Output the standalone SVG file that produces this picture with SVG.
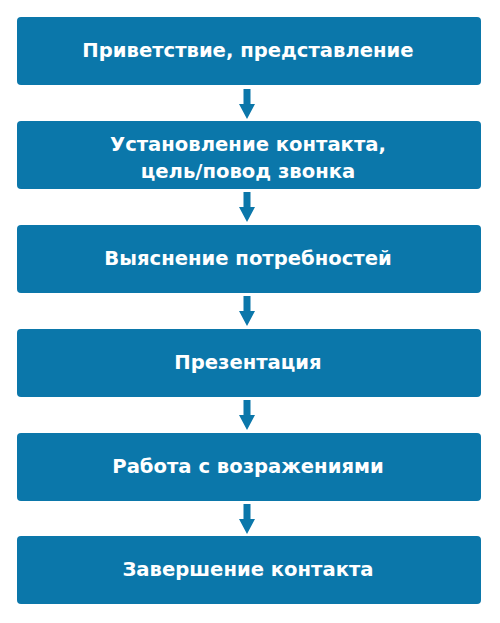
<svg xmlns="http://www.w3.org/2000/svg" width="500" height="623" viewBox="0 0 500 623">
<defs>
<style>
.box{fill:#0b77aa;}
.lbl{fill:#ffffff;font-family:"DejaVu Sans",Verdana,sans-serif;font-weight:bold;font-size:19.6px;text-anchor:middle;}
.arr{fill:#0b77aa;}
</style>
<path id="ar" d="M-3.5,0 H3.5 V15 H8 L0,30 L-8,15 H-3.5 Z"/>
</defs>
<rect width="500" height="623" fill="#ffffff"/>
<g id="connectors" class="arr">
<use href="#ar" x="247" y="89"/>
<use href="#ar" x="247" y="192"/>
<use href="#ar" x="247" y="296"/>
<use href="#ar" x="247" y="400"/>
<use href="#ar" x="247" y="504"/>
</g>
<g id="n1"><rect class="box" x="17" y="17" width="464" height="68" rx="4"/><text class="lbl" x="248" y="57">Приветствие, представление</text></g>
<g id="n2"><rect class="box" x="17" y="121" width="464" height="68" rx="4"/><text class="lbl" x="248" y="151">Установление контакта,</text><text class="lbl" x="248" y="178">цель/повод звонка</text></g>
<g id="n3"><rect class="box" x="17" y="225" width="464" height="68" rx="4"/><text class="lbl" x="248" y="265">Выяснение потребностей</text></g>
<g id="n4"><rect class="box" x="17" y="329" width="464" height="68" rx="4"/><text class="lbl" x="248" y="369">Презентация</text></g>
<g id="n5"><rect class="box" x="17" y="433" width="464" height="68" rx="4"/><text class="lbl" x="248" y="473">Работа с возражениями</text></g>
<g id="n6"><rect class="box" x="17" y="536" width="464" height="68" rx="4"/><text class="lbl" x="248" y="576">Завершение контакта</text></g>
</svg>
